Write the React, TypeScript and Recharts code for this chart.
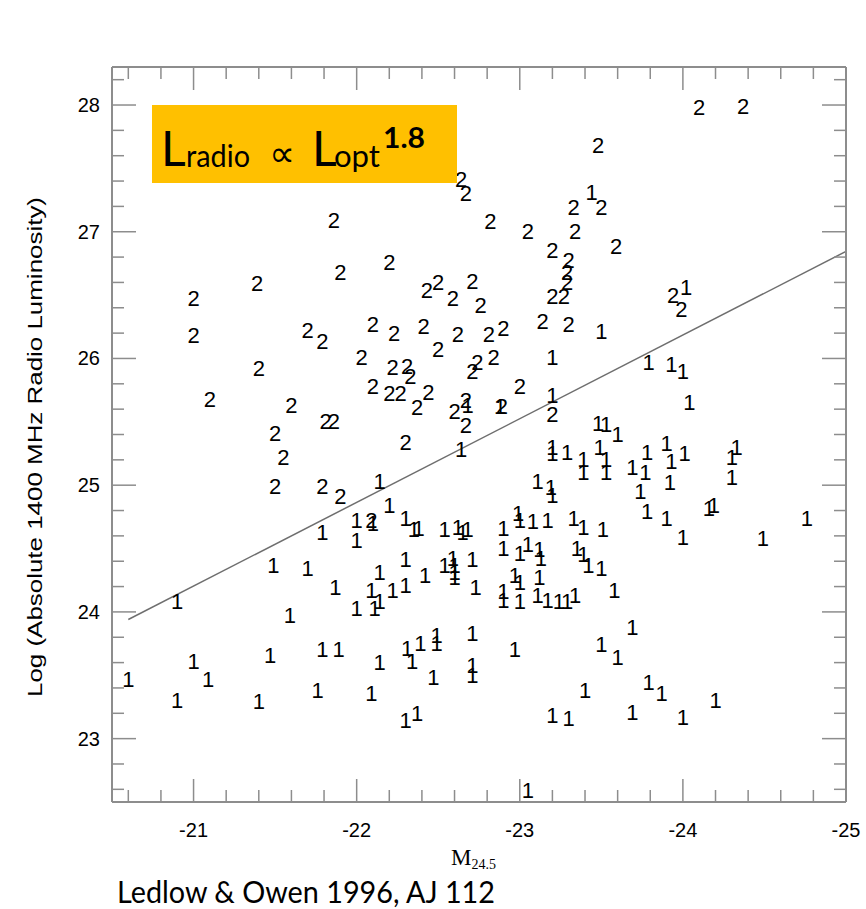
import React from 'react';
import { ScatterChart, Scatter, XAxis, YAxis, ReferenceLine } from 'recharts';

// [M_24.5, log L_1400]; class 1 = FR I, class 2 = FR II
const class1: [number, number][] = [
  [-23.44, 27.31], [-24.02, 26.56], [-23.50, 26.21], [-23.20, 26.01], [-23.20, 25.71], [-22.68, 25.63],
  [-22.88, 25.62], [-23.79, 25.97], [-23.93, 25.95], [-24.00, 25.90], [-24.04, 25.65], [-23.48, 25.49],
  [-23.53, 25.48], [-23.60, 25.40], [-22.64, 25.28], [-23.20, 25.30], [-23.20, 25.25], [-23.29, 25.26],
  [-23.39, 25.20], [-23.39, 25.10], [-23.49, 25.30], [-23.53, 25.20], [-23.53, 25.10], [-23.69, 25.14],
  [-23.78, 25.26], [-23.77, 25.10], [-23.90, 25.33], [-23.93, 25.19], [-24.01, 25.25], [-24.33, 25.30],
  [-24.30, 25.22], [-24.30, 25.06], [-23.74, 24.95], [-23.92, 25.02], [-23.78, 24.79], [-23.90, 24.74],
  [-24.16, 24.82], [-24.19, 24.84], [-23.33, 24.74], [-23.39, 24.67], [-23.51, 24.65], [-24.00, 24.59],
  [-24.49, 24.58], [-24.76, 24.74], [-23.35, 24.50], [-23.39, 24.45], [-23.42, 24.37], [-23.50, 24.34],
  [-23.29, 24.08], [-23.34, 24.13], [-23.58, 24.17], [-23.69, 23.88], [-23.50, 23.74], [-23.60, 23.64],
  [-23.40, 23.38], [-23.79, 23.44], [-23.87, 23.36], [-23.30, 23.16], [-23.69, 23.21], [-24.00, 23.17],
  [-24.20, 23.30], [-23.20, 23.18], [-23.05, 22.59], [-22.30, 23.14], [-22.37, 23.20], [-22.09, 23.36],
  [-22.47, 23.48], [-22.71, 23.58], [-22.71, 23.50], [-22.71, 23.83], [-22.49, 23.81], [-22.49, 23.75],
  [-22.39, 23.75], [-22.31, 23.71], [-22.34, 23.61], [-22.14, 23.60], [-22.97, 23.70], [-21.89, 23.70],
  [-21.79, 23.70], [-21.47, 23.66], [-21.00, 23.61], [-20.60, 23.47], [-21.09, 23.47], [-20.90, 23.30],
  [-21.40, 23.29], [-21.76, 23.38], [-20.90, 24.08], [-21.59, 23.97], [-21.49, 24.37], [-21.70, 24.34],
  [-21.87, 24.19], [-22.00, 24.03], [-22.11, 24.03], [-22.09, 24.17], [-22.14, 24.08], [-22.22, 24.17],
  [-22.30, 24.21], [-22.14, 24.31], [-22.42, 24.29], [-22.30, 24.41], [-22.54, 24.37], [-22.59, 24.42],
  [-22.60, 24.37], [-22.60, 24.31], [-22.60, 24.27], [-22.71, 24.41], [-22.73, 24.19], [-22.90, 24.16],
  [-22.90, 24.09], [-23.00, 24.23], [-23.00, 24.08], [-22.97, 24.29], [-23.12, 24.27], [-23.11, 24.13],
  [-23.17, 24.09], [-23.24, 24.08], [-22.90, 24.50], [-23.00, 24.46], [-23.05, 24.53], [-23.12, 24.49],
  [-23.13, 24.42], [-22.14, 25.03], [-22.20, 24.84], [-22.00, 24.72], [-22.10, 24.70], [-22.30, 24.74],
  [-22.35, 24.65], [-22.38, 24.66], [-22.00, 24.56], [-22.54, 24.65], [-22.62, 24.67], [-22.65, 24.63],
  [-22.68, 24.65], [-22.90, 24.66], [-22.99, 24.78], [-23.00, 24.72], [-23.08, 24.71], [-23.17, 24.72],
  [-23.11, 25.03], [-23.19, 24.98], [-23.20, 24.92], [-21.79, 24.63],
];

const class2: [number, number][] = [
  [-24.10, 27.98], [-24.37, 27.99], [-23.48, 27.68], [-23.50, 27.19], [-23.33, 27.19], [-23.34, 27.00],
  [-23.59, 26.88], [-23.20, 26.85], [-23.30, 26.77], [-23.29, 26.68], [-23.29, 26.60], [-23.20, 26.49],
  [-23.27, 26.49], [-23.30, 26.27], [-23.14, 26.29], [-23.05, 27.00], [-22.82, 27.08], [-22.64, 27.41],
  [-22.67, 27.30], [-22.71, 26.61], [-22.59, 26.47], [-22.76, 26.42], [-22.43, 26.54], [-22.50, 26.60],
  [-22.20, 26.76], [-21.90, 26.68], [-21.86, 27.09], [-21.39, 26.59], [-21.00, 26.47], [-21.00, 26.18],
  [-21.70, 26.22], [-21.79, 26.13], [-21.40, 25.92], [-21.10, 25.68], [-21.60, 25.63], [-21.81, 25.50],
  [-21.86, 25.50], [-21.50, 25.41], [-21.55, 25.22], [-21.50, 24.99], [-21.79, 24.99], [-21.90, 24.91],
  [-22.10, 26.27], [-22.23, 26.20], [-22.41, 26.25], [-22.62, 26.19], [-22.81, 26.19], [-22.90, 26.24],
  [-22.50, 26.07], [-22.03, 26.01], [-22.22, 25.93], [-22.31, 25.94], [-22.33, 25.86], [-22.74, 25.97],
  [-22.84, 26.01], [-22.71, 25.90], [-22.10, 25.78], [-22.20, 25.72], [-22.27, 25.72], [-22.44, 25.73],
  [-22.37, 25.61], [-23.00, 25.78], [-22.67, 25.67], [-22.60, 25.58], [-22.89, 25.62], [-23.20, 25.56],
  [-22.67, 25.47], [-22.30, 25.34], [-23.94, 26.50], [-23.99, 26.39], [-22.09, 24.72],
];

const xTicks = [
  -20.6, -20.8, -21, -21.2, -21.4, -21.6, -21.8, -22, -22.2, -22.4, -22.6, -22.8,
  -23, -23.2, -23.4, -23.6, -23.8, -24, -24.2, -24.4, -24.6, -24.8, -25,
];
const yTicks = [
  22.6, 22.8, 23, 23.2, 23.4, 23.6, 23.8, 24, 24.2, 24.4, 24.6, 24.8, 25, 25.2, 25.4,
  25.6, 25.8, 26, 26.2, 26.4, 26.6, 26.8, 27, 27.2, 27.4, 27.6, 27.8, 28, 28.2,
];
// L_radio ∝ L_opt^1.8 line, end points
const fitLine = [{ x: -20.6, y: 23.94 }, { x: -25, y: 26.845 }];

const ones = class1.map(([x, y]) => ({ x, y }));
const twos = class2.map(([x, y]) => ({ x, y }));

const W = 866;
const H = 909;
const FRAME = '#8d8d8d';
const SANS = '"Liberation Sans", Arial, sans-serif';
const GILL = 'Lato, "Open Sans", sans-serif';

const isMajor = (v: number) => Math.abs(v - Math.round(v)) < 1e-6;

const BottomTick = (p: any) => {
  const v = p.payload.value;
  const major = isMajor(v);
  return (
    <g>
      <line x1={p.x} y1={p.y} x2={p.x} y2={p.y - (major ? 23 : 12)} stroke={FRAME} strokeWidth={1.5} />
      {major && (
        <text x={p.x} y={p.y + 28} textAnchor="middle" dominantBaseline="central"
          fontSize={20} fontFamily={SANS} fill="#000">{Math.round(v)}</text>
      )}
    </g>
  );
};

const TopTick = (p: any) => {
  const major = isMajor(p.payload.value);
  return <line x1={p.x} y1={p.y} x2={p.x} y2={p.y + (major ? 23 : 12)} stroke={FRAME} strokeWidth={1.5} />;
};

const LeftTick = (p: any) => {
  const v = p.payload.value;
  const major = isMajor(v);
  return (
    <g>
      <line x1={p.x} y1={p.y} x2={p.x + (major ? 24 : 12)} y2={p.y} stroke={FRAME} strokeWidth={1.5} />
      {major && (
        <text x={p.x - 12} y={p.y} textAnchor="end" dominantBaseline="central"
          fontSize={20} fontFamily={SANS} fill="#000">{Math.round(v)}</text>
      )}
    </g>
  );
};

const RightTick = (p: any) => {
  const major = isMajor(p.payload.value);
  return <line x1={p.x} y1={p.y} x2={p.x - (major ? 24 : 12)} y2={p.y} stroke={FRAME} strokeWidth={1.5} />;
};

const digit = (label: string) => (p: any) => (
  <text x={p.cx} y={p.cy} textAnchor="middle" dominantBaseline="central"
    fontSize={22} fontFamily={SANS} fill="#000">{label}</text>
);

const axisLine = { stroke: FRAME, strokeWidth: 2 };

export default function App() {
  return (
    <div style={{ position: 'absolute', left: 0, top: 0, width: W, height: H, background: '#fff' }}>
      <ScatterChart width={W} height={H} margin={{ top: 57, right: 10, bottom: 47, left: 52 }}>
        <XAxis xAxisId="b" orientation="bottom" type="number" dataKey="x" domain={[-25, -20.5]} reversed
          allowDataOverflow ticks={xTicks} interval={0} tickSize={0} tickMargin={0} tickLine={false}
          tick={BottomTick} axisLine={axisLine} height={60} />
        <XAxis xAxisId="t" orientation="top" type="number" dataKey="x" domain={[-25, -20.5]} reversed
          allowDataOverflow ticks={xTicks} interval={0} tickSize={0} tickMargin={0} tickLine={false}
          tick={TopTick} axisLine={axisLine} height={10} />
        <YAxis yAxisId="l" orientation="left" type="number" dataKey="y" domain={[22.5, 28.3]}
          allowDataOverflow ticks={yTicks} interval={0} tickSize={0} tickMargin={0} tickLine={false}
          tick={LeftTick} axisLine={axisLine} width={60} />
        <YAxis yAxisId="r" orientation="right" type="number" dataKey="y" domain={[22.5, 28.3]}
          allowDataOverflow ticks={yTicks} interval={0} tickSize={0} tickMargin={0} tickLine={false}
          tick={RightTick} axisLine={axisLine} width={10} />
        <ReferenceLine xAxisId="b" yAxisId="l" segment={fitLine} stroke="#6e6e6e" strokeWidth={1.5} />
        <Scatter xAxisId="b" yAxisId="l" data={ones} shape={digit('1')} isAnimationActive={false} />
        <Scatter xAxisId="b" yAxisId="l" data={twos} shape={digit('2')} isAnimationActive={false} />
        <Scatter xAxisId="t" yAxisId="r" data={twos} shape={() => <g />} isAnimationActive={false} />
      </ScatterChart>

      <svg width={W} height={H} style={{ position: 'absolute', left: 0, top: 0, pointerEvents: 'none' }}>
        <rect x={152} y={105} width={305} height={78} fill="#FFC000" />
        <text x={161} y={166} fontSize={48} fontFamily={GILL} fill="#000">L</text>
        <text x={186} y={167} fontSize={31} fontFamily={GILL} fill="#000" textLength={64} lengthAdjust="spacingAndGlyphs">radio</text>
        <text x={282} y={153} fontSize={36} fontFamily="DejaVu Sans" textAnchor="middle" dominantBaseline="central" fill="#000">∝</text>
        <text x={312} y={166} fontSize={48} fontFamily={GILL} fill="#000">L</text>
        <text x={334} y={167} fontSize={31} fontFamily={GILL} fill="#000" textLength={46} lengthAdjust="spacingAndGlyphs">opt</text>
        <text x={383} y={148} fontSize={28} fontWeight="bold" fontFamily={GILL} fill="#000" textLength={42} lengthAdjust="spacingAndGlyphs">1.8</text>

        <text transform="translate(35,447) rotate(-90)" textAnchor="middle" dominantBaseline="central"
          fontSize={20} fontFamily={SANS} fill="#000" textLength={500} lengthAdjust="spacingAndGlyphs">
          Log (Absolute 1400 MHz Radio Luminosity)
        </text>

        <text x={451} y={865} fontSize={23} fontFamily='"Liberation Serif", serif' fill="#000">
          M<tspan fontSize={14} dy={4}>24.5</tspan>
        </text>

        <text x={117} y={903} fontSize={30} fontFamily={GILL} fill="#000" textLength={378} lengthAdjust="spacingAndGlyphs">
          Ledlow &amp; Owen 1996, AJ 112
        </text>
      </svg>
    </div>
  );
}
